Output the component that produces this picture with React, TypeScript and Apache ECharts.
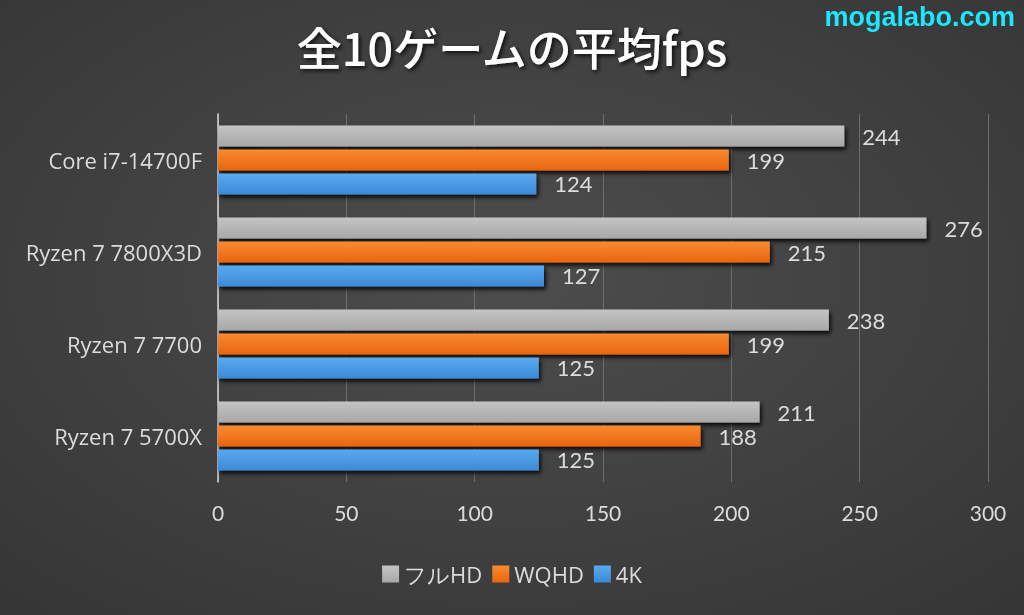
import React, { useEffect, useRef } from "react";
import * as echarts from "echarts";

const categories = ["Core i7-14700F", "Ryzen 7 7800X3D", "Ryzen 7 7700", "Ryzen 7 5700X"];
const seriesNames = ["フルHD", "WQHD", "4K"];
const fullHD = [244, 276, 238, 211];
const wqhd = [199, 215, 199, 188];
const k4 = [124, 127, 125, 125];
const xTicks = { min: 0, max: 300, interval: 50 };

const FONT = "'Open Sans', Lato, sans-serif";
const NUMFONT = "Lato, 'Open Sans', sans-serif";

export default function App() {
  const ref = useRef<HTMLDivElement>(null);
  useEffect(() => {
    if (!ref.current) return;
    const chart = echarts.init(ref.current, null, { renderer: "svg" });
    const mk = (name: string, data: number[], c1: string, c2: string) => ({
      name,
      type: "bar",
      data,
      barWidth: 21,
      barGap: "14%",
      itemStyle: {
        color: new echarts.graphic.LinearGradient(0, 0, 0, 1, [
          { offset: 0, color: c1 },
          { offset: 1, color: c2 },
        ]),
        shadowColor: "rgba(0,0,0,0.85)",
        shadowBlur: 4,
        shadowOffsetY: 3,
        shadowOffsetX: 2,
      },
      label: {
        show: true,
        position: "right",
        distance: 18,
        color: "#dcdcdc",
        fontSize: 22,
        fontFamily: NUMFONT,
      },
    });
    chart.setOption({
      animation: false,
      backgroundColor: "transparent",
      graphic: [
        {
          type: "rect",
          z: -10,
          shape: { x: 0, y: 0, width: 1024, height: 615 },
          style: {
            fill: new echarts.graphic.RadialGradient(0.5, 0.45, 0.75, [
              { offset: 0, color: "#4d4d4d" },
              { offset: 1, color: "#353535" },
            ]),
          },
          silent: true,
        },
        {
          type: "text",
          right: 9,
          top: 3,
          style: {
            text: "mogalabo.com",
            fill: "#1ee6ff",
            font: "bold 27px 'Liberation Sans', Arial, sans-serif",
            shadowColor: "rgba(0,160,255,0.9)",
            shadowBlur: 4,
          },
        },
      ],
      title: {
        text: "全10ゲームの平均fps",
        left: "center",
        top: 19,
        textStyle: {
          color: "#ffffff",
          fontSize: 45,
          fontWeight: 500,
          fontFamily: "'Noto Sans CJK JP', sans-serif",
          textShadowColor: "rgba(0,0,0,0.8)",
          textShadowBlur: 4,
          textShadowOffsetX: 2,
          textShadowOffsetY: 2,
        },
      },
      legend: {
        bottom: 25,
        left: "center",
        itemWidth: 17,
        itemHeight: 17,
        itemGap: 10,
        icon: "rect",
        textStyle: { color: "#dcdcdc", fontSize: 22, fontFamily: FONT },
        data: seriesNames,
      },
      grid: { left: 218, right: 36, top: 114, bottom: 133 },
      xAxis: {
        type: "value",
        min: xTicks.min,
        max: xTicks.max,
        interval: xTicks.interval,
        axisLine: { show: false },
        axisTick: { show: false },
        axisLabel: { color: "#dcdcdc", fontSize: 21, fontFamily: NUMFONT, margin: 20 },
        splitLine: { lineStyle: { color: "#6e6e6e", width: 1 } },
      },
      yAxis: {
        type: "category",
        data: categories,
        inverse: true,
        axisLine: { show: true, lineStyle: { color: "#d8d8d8", width: 1.5 } },
        axisTick: { show: false },
        axisLabel: { color: "#dcdcdc", fontSize: 22, fontFamily: FONT, margin: 16 },
        splitLine: { show: false },
      },
      series: [
        mk(seriesNames[0], fullHD, "#c4c4c4", "#a8a8a8"),
        mk(seriesNames[1], wqhd, "#fb8a30", "#e8650e"),
        mk(seriesNames[2], k4, "#5aaaf0", "#3b8ad6"),
      ],
    });
    return () => chart.dispose();
  }, []);
  return (
    <div
      ref={ref}
      style={{ position: "fixed", left: 0, top: 0, width: 1024, height: 615 }}
    />
  );
}
